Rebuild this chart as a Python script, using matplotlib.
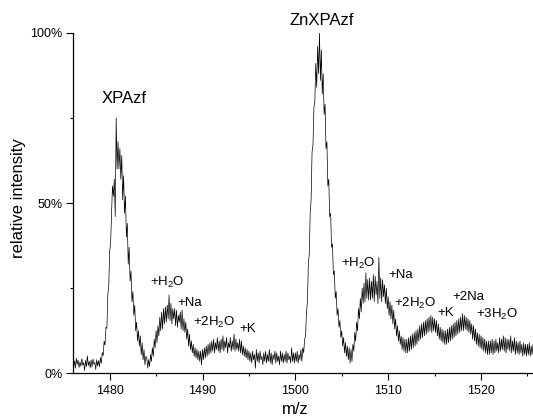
import numpy as np
import matplotlib
matplotlib.use("Agg")
import matplotlib.pyplot as plt
from matplotlib.ticker import MultipleLocator, FuncFormatter

plt.rcParams['font.family'] = ['Liberation Sans', 'DejaVu Sans']
plt.rcParams['mathtext.fontset'] = 'custom'
plt.rcParams['mathtext.rm'] = 'Liberation Sans'
plt.rcParams['mathtext.it'] = 'Liberation Sans:italic'
plt.rcParams['mathtext.bf'] = 'Liberation Sans:bold'

# ---- data, one row per 1 m/z unit ----
mz_start = 1476.0
mz_step = 0.1
intensity = [
    4.1, 1.9, 3.6, 1.5, 4.4, 2.6, 3.9, 1.7, 3.3, 2.1,      # 1476
    4.3, 2.4, 3.1, 0.8, 3.8, 2.0, 5.1, 2.3, 3.5, 1.6,      # 1477
    3.9, 1.8, 4.2, 2.7, 3.2, 1.1, 4.0, 2.2, 3.7, 1.9,      # 1478
    4.6, 2.9, 6.1, 5.2, 9.4, 8.3, 13.5, 13.2, 23.0, 25.5,  # 1479
    36, 38, 47, 55, 52, 57, 46, 75, 60, 68,                # 1480
    60, 66, 57, 64, 51, 58, 47, 52, 40, 44,                # 1481
    32, 37, 27, 30, 21, 24, 17, 20, 12.5, 15,              # 1482
    9.5, 12.5, 8, 11, 5.5, 9, 4, 7, 2.5, 5,                # 1483
    4.5, 1.5, 4, 2, 5.5, 3.5, 7.5, 5, 10, 7.5,             # 1484
    12.5, 9, 14, 11, 16.5, 12.5, 18, 13, 19, 14.5,         # 1485
    19.5, 15, 20, 16, 23, 15.5, 20.5, 14.5, 19, 16,        # 1486
    19, 14, 18.5, 13.5, 17, 15, 18, 13, 18.6, 12.5,        # 1487
    16, 12, 15, 10, 13, 8, 11.5, 7, 9.5, 6,                # 1488
    8.5, 5, 7.5, 4.5, 7, 4, 6.5, 3.5, 6.5, 2.5,            # 1489
    7, 4, 7.5, 4.5, 8, 5, 8.5, 5.5, 9, 6,                  # 1490
    9.5, 6.5, 10, 6, 9, 7, 10.5, 6.5, 9.5, 6,              # 1491
    10, 7, 11, 6.5, 9.5, 7.5, 10.5, 6, 9, 7.5,             # 1492
    10.5, 6.5, 9.5, 7, 11.5, 6.5, 10, 7, 9, 6.5,           # 1493
    10, 6, 9.5, 5.5, 8, 5, 7.5, 4.5, 7, 4,                 # 1494
    6.5, 3.5, 6, 3, 6.5, 4, 5.5, 1.5, 7, 3.5,              # 1495
    6, 3, 6.5, 4, 5, 2.5, 6, 3.5, 6.5, 3,                  # 1496
    5.5, 3.5, 7, 3, 6, 2.5, 5.5, 4, 6.5, 3,                # 1497
    6, 3.5, 5, 2.5, 6.5, 3.5, 6, 3, 5.5, 3.5,              # 1498
    6.5, 3, 6, 4, 5, 3, 7.5, 3.5, 6, 3,                    # 1499
    6, 3.5, 6.5, 3, 5.5, 4, 7, 3.5, 7.5, 6,                # 1500
    10, 11, 18, 21, 32, 35, 47, 51, 65, 67,                # 1501
    78, 80, 91, 84, 96, 88, 100, 86, 95, 82,               # 1502
    88, 76, 79, 66, 68, 55, 57, 46, 47, 37,                # 1503
    38, 29, 30, 22, 24, 17, 19, 13.5, 15.5, 10.5,          # 1504
    12.5, 8, 10.5, 6, 9, 5, 8, 4, 7.5, 3,                  # 1505
    7, 3.5, 8.5, 6.5, 12, 9.5, 15, 12.5, 19, 16,           # 1506
    22, 18, 25, 20.5, 26.5, 21, 29.5, 22, 27.5, 21.5,      # 1507
    28, 21.5, 27, 22, 29, 21, 28.5, 23, 27, 20.5,          # 1508
    34, 22, 28, 21, 27.5, 22.5, 26, 20.5, 25, 19,          # 1509
    22.5, 17, 21, 16, 20, 14.5, 18.5, 13, 16, 11,          # 1510
    14, 9.5, 12.5, 8.5, 11, 7, 10.5, 6.5, 10, 6,           # 1511
    10, 6, 10.5, 6.5, 11, 7, 11.5, 7.5, 12, 8,             # 1512
    12.5, 8.5, 13, 9.5, 14, 10, 14.5, 10.5, 15, 11,        # 1513
    15.5, 11.5, 16, 12, 16.5, 12.5, 17, 12, 16.5, 12.5,    # 1514
    16, 12, 15.5, 11, 14.5, 10, 13.5, 9.5, 13, 9,          # 1515
    12.5, 8.5, 12.5, 8.5, 13, 9, 13.5, 9.5, 14, 10,        # 1516
    14.5, 10.5, 15, 11, 15.5, 11.5, 16, 12, 16.5, 12.5,    # 1517
    17.5, 12.5, 17, 13, 16.5, 12.5, 16, 12, 15.5, 11.5,    # 1518
    14.5, 10, 14, 9.5, 13, 8.5, 12, 8, 11.5, 7.5,          # 1519
    11, 7, 10.5, 6.5, 10, 6, 9.5, 5.5, 9.5, 5.5,           # 1520
    9.5, 6, 10, 5.5, 9.5, 6, 10, 6.5, 9, 6,                # 1521
    10.5, 6.5, 10, 7, 11, 6.5, 10.5, 6, 10, 7,             # 1522
    10, 6.5, 11, 6, 9.5, 6.5, 10.5, 5.5, 9.5, 6,           # 1523
    9, 5.5, 9.5, 6, 8.5, 5, 9, 5.5, 8.5, 5,                # 1524
    8.5, 5.5, 9, 5, 8, 5.5, 8.5,                           # 1525
]
mz = mz_start + mz_step * np.arange(len(intensity))

x_ticks = [1480, 1490, 1500, 1510, 1520]
y_ticks = [0, 50, 100]

labels_big = [("XPAzf", 1481.6, 79.3), ("ZnXPAzf", 1502.8, 102.3)]
labels_small = [
    ("+H$_2$O", 1486.25, 25.7),
    ("+Na", 1488.62, 19.8),
    ("+2H$_2$O", 1491.2, 13.9),
    ("+K", 1494.92, 12.2),
    ("+H$_2$O", 1506.83, 31.1),
    ("+Na", 1511.36, 27.9),
    ("+2H$_2$O", 1512.92, 19.6),
    ("+K", 1516.2, 16.8),
    ("+2Na", 1518.63, 21.5),
    ("+3H$_2$O", 1521.7, 16.4),
]

# ---- figure ----
fig = plt.figure(figsize=(5.33, 4.17), dpi=100)
ax = fig.add_axes([73 / 533, (417 - 373.3) / 417, 1 - 73 / 533, (373.3 - 32.7) / 417])
ax.plot(mz, intensity, color='black', lw=0.5)

ax.set_xlim(1476.05, 1525.6)
ax.set_ylim(0, 100)
ax.set_xticks(x_ticks)
ax.xaxis.set_minor_locator(MultipleLocator(5))
ax.set_yticks(y_ticks)
ax.yaxis.set_minor_locator(MultipleLocator(25))
ax.yaxis.set_major_formatter(FuncFormatter(lambda v, p: f"{int(v)}%"))

for s in ['top', 'right']:
    ax.spines[s].set_visible(False)
for s in ['left', 'bottom']:
    ax.spines[s].set_linewidth(0.9)
ax.tick_params(which='major', length=5, width=0.8, labelsize=9, direction='out')
ax.tick_params(which='minor', length=2.5, width=0.8, direction='out')
ax.tick_params(axis='x', pad=3.5)
ax.tick_params(axis='y', pad=2.4)

for t, x, y in labels_big:
    ax.text(x, y, t, ha='center', va='baseline', fontsize=12, clip_on=False)
for t, x, y in labels_small:
    ax.text(x, y, t, ha='center', va='baseline', fontsize=9.5, clip_on=False)

fig.text(19 / 533, 1 - 198 / 417, "relative intensity", rotation=90,
         ha='center', va='center', fontsize=12)
fig.text(295 / 533, 0.001, "m/z", ha='center', va='bottom', fontsize=12)

fig.savefig("out.png", dpi=100)
